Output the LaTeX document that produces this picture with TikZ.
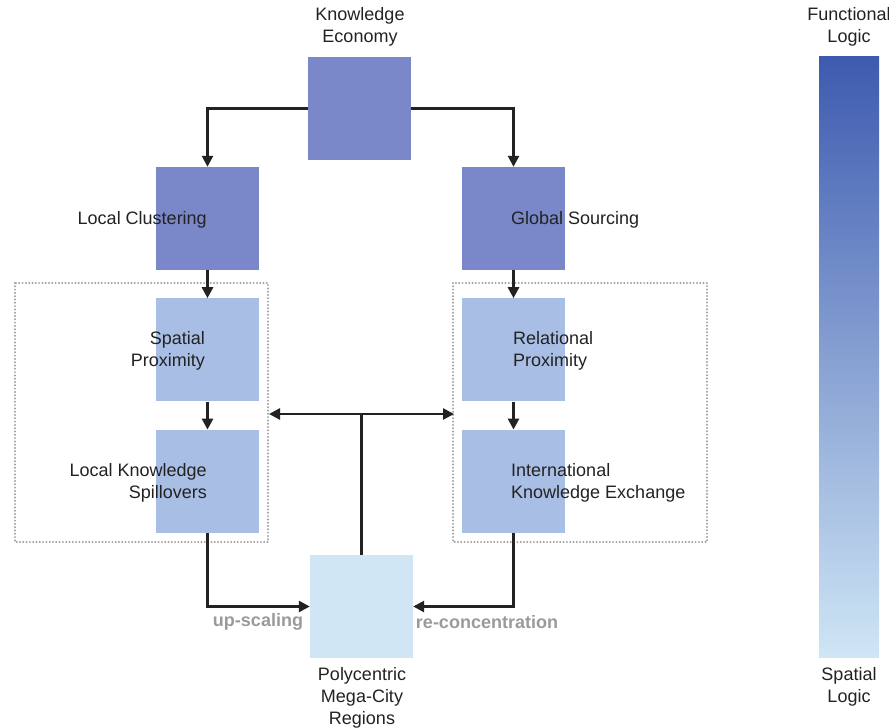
\documentclass[tikz,border=0pt]{standalone}
\usepackage{fontspec}
\setmainfont{Liberation Sans}
\usetikzlibrary{arrows.meta,positioning}
\definecolor{topblue}{HTML}{7A88C9}
\definecolor{midblue}{HTML}{A9BEE5}
\definecolor{paleblue}{HTML}{D0E6F5}
\definecolor{gradtop}{HTML}{3D5AAF}
\definecolor{gradbot}{HTML}{CFE6F5}
\definecolor{txt}{HTML}{222222}
\definecolor{lbl}{HTML}{9A9A9A}
\definecolor{dotgray}{HTML}{A0A0A0}
\begin{document}
\begin{tikzpicture}[x=1pt,y=-1pt, node distance=28pt,
 font=\fontsize{18}{22}\selectfont,
 sq/.style={minimum width=103pt,minimum height=103pt,inner sep=0pt},
 top/.style={sq,fill=topblue},
 mid/.style={sq,fill=midblue},
 pc/.style={sq,fill=paleblue},
 t/.style={text=txt,inner sep=0pt},
 lb/.style={text=lbl,inner sep=0pt,font=\fontsize{18}{22}\selectfont\bfseries},
 dotbox/.style={draw=dotgray,line width=2.2pt,dash pattern=on 0pt off 3.3pt,line cap=round},
 a/.style={-{Triangle[length=11pt,width=11pt]},line width=2.6pt,draw=txt}]
\useasboundingbox (0,0) rectangle (889,728);
% boxes
\node[top] (ke) at (359.5,108.5) {};
\node[top] (lc) at (207.5,218.5) {};
\node[top] (gs) at (513.5,218.5) {};
\node[mid,below=of lc] (sp) {};
\node[mid,below=of sp] (lks) {};
\node[mid,below=of gs] (rp) {};
\node[mid,below=of rp] (ike) {};
\node[pc] (pmc) at (361.5,606.5) {};
% dotted frames
\draw[dotbox] (15,283) rectangle (268,542);
\draw[dotbox] (453,283) rectangle (707,542);
\coordinate (lf) at (269,414);
\coordinate (rf) at (454,414);
% gradient bar
\shade[top color=gradtop,bottom color=gradbot] (819,56) rectangle (879,657);
% texts
\node[t,align=center] (tke) at (360,27) {Knowledge\\Economy};
\node[t,anchor=east] (tlc) at (207,220) {Local Clustering};
\node[t,anchor=west] (tgs) at (511,220) {Global Sourcing};
\node[t,align=right,anchor=east] (tsp) at (205,351) {Spatial\\Proximity};
\node[t,align=right,anchor=east] (tlks) at (207,483) {Local Knowledge\\Spillovers};
\node[t,align=left,anchor=west] (trp) at (513,351) {Relational\\Proximity};
\node[t,align=left,anchor=west] (tike) at (511,483) {International\\Knowledge Exchange};
\node[t,align=center] (tpmc) at (362,698) {Polycentric\\Mega-City\\Regions};
\node[t,align=center] (tfl) at (849,27) {Functional\\Logic};
\node[t,align=center] (tsl) at (849,687) {Spatial\\Logic};
\node[lb] (up) at (258,622) {up-scaling};
\node[lb] (rc) at (487,622) {re-concentration};
% connectors
\draw[a] (ke.west) -| (lc.north);
\draw[a] (ke.east) -| (gs.north);
\draw[a] (lc) -- (sp);\draw[a] (sp) -- (lks);
\draw[a] (gs) -- (rp);\draw[a] (rp) -- (ike);
\draw[a] (lks.south) |- (pmc.west);
\draw[a] (ike.south) |- (pmc.east);
\draw[a,{Triangle[length=11pt,width=11pt]}-{Triangle[length=11pt,width=11pt]}] (lf) -- (rf);
\draw[line width=2.6pt,draw=txt] (pmc.north) -- (pmc.north |- lf);
\end{tikzpicture}
\end{document}
